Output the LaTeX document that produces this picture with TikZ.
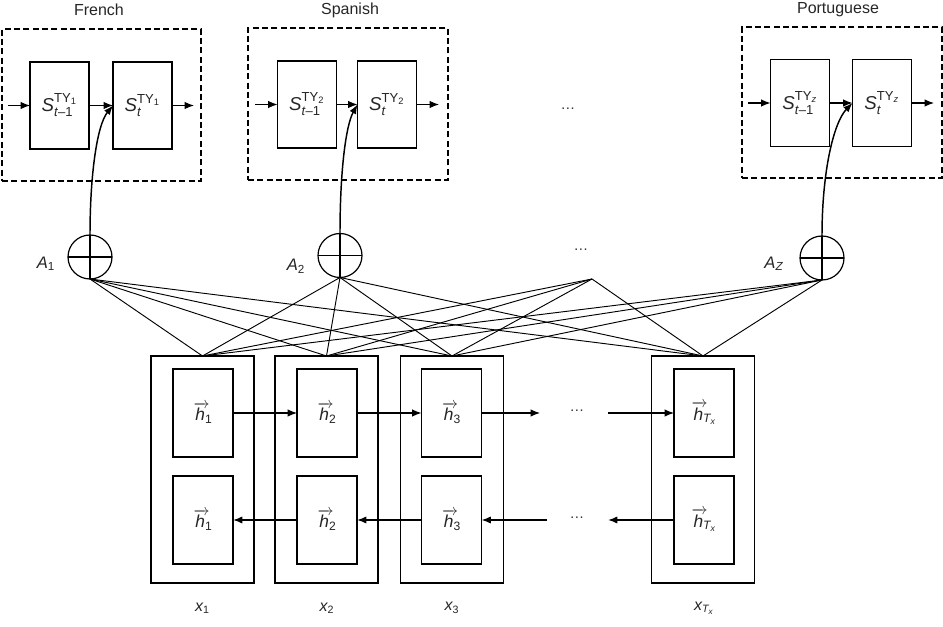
\documentclass[tikz,border=0pt]{standalone}
\usepackage{amsmath}
\usepackage{fontspec}
\setmainfont{Liberation Sans}
\usetikzlibrary{arrows.meta}
\newcommand{\SymS}[2]{$\textit{S}^{\text{TY}_{\text{#1}}}_{#2}$}
\newcommand{\hvec}[1]{${\overrightarrow{\textit{h}\,}}\mkern-5mu{}_{#1}$}
\begin{document}
\begin{tikzpicture}[x=0.75pt,y=-0.75pt,
  line/.style={draw=black, line width=0.8pt},
  arr/.style={line, -{Latex[length=7pt,width=5.5pt]}},
  dashbox/.style={draw=black, dash pattern=on 4.5pt off 2.5pt, line width=0.8pt, minimum width=150pt, minimum height=114pt, inner sep=0pt, outer sep=0pt},
  sbox/.style={draw=black, line width=0.9pt, minimum width=44.25pt, minimum height=65.25pt, inner sep=0pt, outer sep=0pt, font=\fontsize{14}{16}\selectfont, text=black!85},
  outerbox/.style={draw=black, line width=1pt, minimum width=77.25pt, minimum height=170.25pt, inner sep=0pt, outer sep=0pt},
  innerbox/.style={draw=black, line width=0.9pt, minimum width=45pt, minimum height=66pt, inner sep=0pt, outer sep=0pt, font=\fontsize{13}{15}\selectfont, text=black!85},
  summ/.style={draw=black, line width=0.9pt, circle, minimum size=33pt, inner sep=0pt, outer sep=0pt},
  lab/.style={font=\fontsize{12.5}{14}\selectfont, text=black!85},
  dots/.style={font=\fontsize{11}{12}\selectfont, text=black!80}]
\useasboundingbox (0,0) rectangle (943,627);
\fill[white] (0,0) rectangle (943,627);

% ---- top language blocks
\node[lab, font=\fontsize{12}{14}\selectfont] (fr) at (99,10) {French};
\node[lab, font=\fontsize{12}{14}\selectfont] (sp) at (350,10) {Spanish};
\node[lab, font=\fontsize{12}{14}\selectfont] (pt) at (838,10) {Portuguese};

\node[dashbox, minimum width=149.25pt] (dfr) at (101.5,105) {};
\node[dashbox] (dsp) at (348,104) {};
\node[dashbox, minimum height=113.25pt] (dpt) at (842,102.5) {};

\node[sbox] (fa) at (59.5,105.5) {\SymS{1}{\text{\textit{t}–1}}};
\node[sbox] (fb) at (142.5,105.5) {\SymS{1}{\textit{t}}};
\node[sbox] (sa) at (307,104.5) {\SymS{2}{\text{\textit{t}–1}}};
\node[sbox] (sb) at (387,104.5) {\SymS{2}{\textit{t}}};
\node[sbox] (pa) at (800,103) {\SymS{\textit{z}}{\text{\textit{t}–1}}};
\node[sbox] (pb) at (882,103) {\SymS{\textit{z}}{\textit{t}}};

\coordinate (fin) at (8,105.5);
\coordinate (fout) at (194,105.5);
\coordinate (sin) at (255,104.5);
\coordinate (sout) at (439,104.5);
\coordinate (pin) at (748,103);
\coordinate (pout) at (934,103);

\draw[arr] (fin) -- (fa);
\draw[arr] (fa) -- (fb);
\draw[arr] (fb) -- (fout);
\draw[arr] (sin) -- (sa);
\draw[arr] (sa) -- (sb);
\draw[arr] (sb) -- (sout);
\draw[arr] (pin) -- (pa);
\draw[arr] (pa) -- (pb);
\draw[arr] (pb) -- (pout);

\node[dots] (tdots) at (568,109) {\ldots};

% ---- attention sums
\node[summ] (A1) at (90,257) {};
\node[summ] (A2) at (340,255.5) {};
\node[summ] (AZ) at (822,258) {};
\foreach \n in {A1,A2,AZ}{
  \draw[line] (\n.north) -- (\n.south);
  \draw[line] (\n.west) -- (\n.east);
}
\node[lab] (lA1) at (46,264) {$\textit{A}_{\text{1}}$};
\node[lab] (lA2) at (296,266) {$\textit{A}_{\text{2}}$};
\node[lab] (lAZ) at (774,264) {$\textit{A}_{\text{\textit{Z}}}$};
\node[dots] (mdots) at (581,250) {\ldots};
\coordinate (Ad) at (592,279);

\draw[arr, line width=1.1pt] (A1.north) .. controls (90,175) and (97,125) .. (fb.west);
\draw[arr, line width=1.1pt] (A2.north) .. controls (340,170) and (346,125) .. (sb.west);
\draw[arr, line width=1.1pt] (AZ.north) .. controls (822,170) and (834,122) .. (pb.west);

% ---- encoder
\node[outerbox] (o1) at (202.5,469.5) {};
\node[outerbox] (o2) at (326.5,469.5) {};
\node[outerbox] (o3) at (452,469.5) {};
\node[outerbox] (o4) at (703,469.5) {};

\node[innerbox] (f1) at (203,413) {\hvec{\text{1}}};
\node[innerbox] (f2) at (327,413) {\hvec{\text{2}}};
\node[innerbox] (f3) at (451.5,413) {\hvec{\text{3}}};
\node[innerbox] (f4) at (704,413) {\hvec{\textit{T}_{\textit{x}}}};
\node[innerbox] (b1) at (203,520) {\hvec{\text{1}}};
\node[innerbox] (b2) at (327,520) {\hvec{\text{2}}};
\node[innerbox] (b3) at (451.5,520) {\hvec{\text{3}}};
\node[innerbox] (b4) at (704,520) {\hvec{\textit{T}_{\textit{x}}}};

\foreach \a in {A1,A2,AZ}{
  \foreach \o in {o1,o2,o3,o4}{
    \draw[line, line width=0.7pt] (\a.south) -- (\o.north);
  }
}
\foreach \o in {o1,o2,o3,o4}{
  \draw[line, line width=0.7pt] (Ad) -- (\o.north);
}

% forward chain
\coordinate (fe3) at (540,413);
\coordinate (fs4) at (608,413);
\draw[arr] (f1) -- (f2);
\draw[arr] (f2) -- (f3);
\draw[arr] (f3) -- (fe3);
\node[dots] (fdots) at (577,411) {\ldots};
\draw[arr] (fs4) -- (f4);

% backward chain
\coordinate (be4) at (608,520);
\coordinate (bs3) at (547,520);
\draw[arr, line width=1.2pt] (b4) -- (be4);
\node[dots] (bdots) at (577,518) {\ldots};
\draw[arr, line width=1.2pt] (bs3) -- (b3);
\draw[arr, line width=1.2pt] (b3) -- (b2);
\draw[arr, line width=1.2pt] (b2) -- (b1);

% inputs
\node[lab, font=\fontsize{12}{14}\selectfont] (x1) at (202.5,608) {$\textit{x}_{\text{1}}$};
\node[lab, font=\fontsize{12}{14}\selectfont] (x2) at (327,608) {$\textit{x}_{\text{2}}$};
\node[lab, font=\fontsize{12}{14}\selectfont] (x3) at (452,608) {$\textit{x}_{\text{3}}$};
\node[lab, font=\fontsize{12}{14}\selectfont] (x4) at (704,608) {$\textit{x}_{\textit{T}_{\textit{x}}}$};
\end{tikzpicture}
\end{document}
